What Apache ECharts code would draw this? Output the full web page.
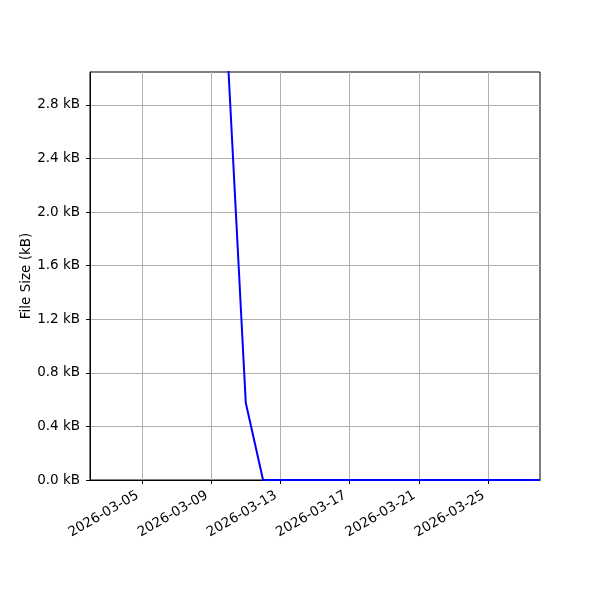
<!DOCTYPE html>
<html><head><meta charset="utf-8">
<script src="https://cdn.jsdelivr.net/npm/echarts@6/dist/echarts.min.js"></script>
<style>html,body{margin:0;padding:0;background:#fff}#c{width:600px;height:600px}</style>
</head><body><div id="c"></div>
<script>
const dates = ['2026-03-10','2026-03-11','2026-03-12','2026-03-13','2026-03-14','2026-03-15','2026-03-16','2026-03-17','2026-03-18','2026-03-19','2026-03-20','2026-03-21','2026-03-22','2026-03-23','2026-03-24','2026-03-25','2026-03-26','2026-03-27','2026-03-28'];
const sizesKB = [3.06,0.577,0,0,0,0,0,0,0,0,0,0,0,0,0,0,0,0,0];
const xTickDates = ['2026-03-05','2026-03-09','2026-03-13','2026-03-17','2026-03-21','2026-03-25'];
const yTicks = [0,0.4,0.8,1.2,1.6,2.0,2.4,2.8];
const xMinDate = '2026-03-02', xMaxDate = '2026-03-28';
const yMax = 3.046;

const ts = d => Date.parse(d + 'T00:00:00Z');
const pad = n => (n < 10 ? '0' : '') + n;
const fmtDate = v => { const d = new Date(v); return d.getUTCFullYear() + '-' + pad(d.getUTCMonth()+1) + '-' + pad(d.getUTCDate()); };
const font = 'DejaVu Sans';
const chart = echarts.init(document.getElementById('c'), null, {renderer:'canvas'});
chart.setOption({
  animation:false,
  grid:{left:90,right:60,top:72,bottom:120,show:true,borderColor:'#000',borderWidth:1,backgroundColor:'#fff'},
  xAxis:{
    type:'value', min:ts(xMinDate), max:ts(xMaxDate),
    axisLine:{show:true,lineStyle:{color:'#000',width:1}},
    axisTick:{show:true,length:4,lineStyle:{color:'#000',width:1},customValues:xTickDates.map(ts)},
    axisLabel:{customValues:xTickDates.map(ts),formatter:fmtDate,rotate:30,margin:12,padding:[0,5,0,0],color:'#000',fontFamily:font,fontSize:13.5},
    splitLine:{show:true,lineStyle:{color:'#b0b0b0',width:1}}
  },
  yAxis:{
    type:'value', min:0, max:yMax,
    name:'File Size (kB)', nameLocation:'middle', nameGap:57, nameMoveOverlap:false,
    nameTextStyle:{color:'#000',fontFamily:font,fontSize:13.5},
    axisLine:{show:true,lineStyle:{color:'#000',width:1}},
    axisTick:{show:true,length:4,lineStyle:{color:'#000',width:1},customValues:yTicks},
    axisLabel:{customValues:yTicks,formatter:v=>v.toFixed(1)+' kB',margin:10,color:'#000',fontFamily:font,fontSize:13.5},
    splitLine:{show:true,lineStyle:{color:'#b0b0b0',width:1}}
  },
  series:[{
    type:'line', data:dates.map((d,i)=>[ts(d),sizesKB[i]]),
    showSymbol:false, symbol:'none', clip:true,
    lineStyle:{color:'#0000ff',width:2}, z:5
  }]
});
</script></body></html>
